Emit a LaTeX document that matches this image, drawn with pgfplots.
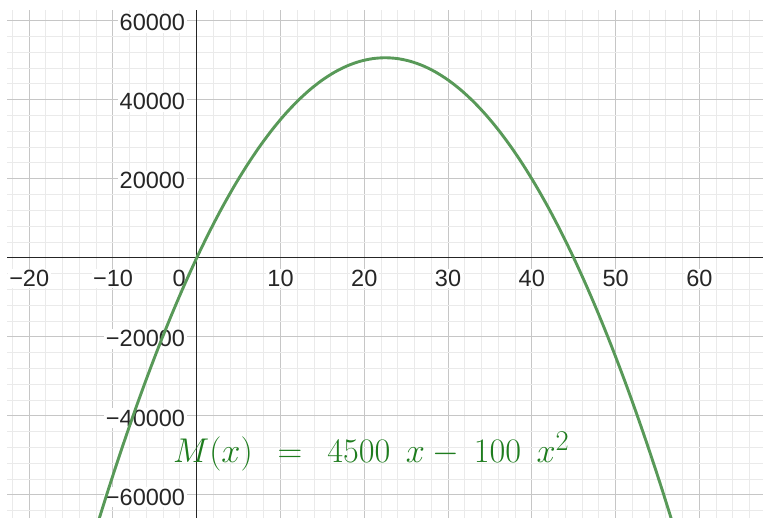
\documentclass[border=0pt]{standalone}
\usepackage[no-math]{fontspec}
\setmainfont{Liberation Sans}
\usepackage{graphicx}
\usepackage{pgfplots}
\pgfplotsset{compat=1.18}

\definecolor{curvegreen}{RGB}{88,153,88}
\definecolor{labelgreen}{RGB}{30,124,30}
\definecolor{majorgrid}{RGB}{198,198,198}
\definecolor{minorgrid}{RGB}{234,234,234}
\definecolor{axisgray}{RGB}{37,37,37}

\begin{document}
\begin{tikzpicture}
\begin{axis}[
  at={(7pt,0pt)}, anchor=south west,
  scale only axis, width=756pt, height=508pt,
  xmin=-22.65, xmax=67.60,
  ymin=-65819, ymax=62707,
  axis lines=middle,
  axis line style={-, draw=axisgray, line width=1.3pt},
  set layers,
  xtick={-20,-10,10,20,30,40,50,60},
  xticklabels={−20,−10,10,20,30,40,50,60},
  extra x ticks={0},
  extra x tick labels={0},
  extra x tick style={xticklabel style={xshift=-17.7pt}, major grid style={draw=none}},
  ytick={-60000,-40000,-20000,20000,40000,60000},
  yticklabels={−60000,−40000,−20000,20000,40000,60000},
  scaled y ticks=false, scaled x ticks=false,
  minor xtick={-22,-20,...,66},
  minor ytick={-64000,-60000,...,60000},
  major tick length=0pt, minor tick length=0pt,
  grid=both,
  major grid style={draw=majorgrid, line width=1pt},
  minor grid style={draw=minorgrid, line width=1pt},
  tick label style={font=\fontsize{23.5}{26}\selectfont, text=black!85, fill=white, inner sep=1.5pt},
  xticklabel style={anchor=north, yshift=-10.5pt},
  yticklabel style={anchor=east, xshift=-10pt, yshift=-2pt},
  clip=true,
]
\addplot[curvegreen, line width=2.9pt, smooth, line join=round] coordinates {
  (-12,-68400) (-10.5,-58275) (-9,-48600) (-7.5,-39375) (-6,-30600)
  (-4.5,-22275) (-3,-14400) (-1.5,-6975) (0,0) (1.5,6525) (3,12600)
  (4.5,18225) (6,23400) (7.5,28125) (9,32400) (10.5,36225) (12,39600)
  (13.5,42525) (15,45000) (16.5,47025) (18,48600) (19.5,49725) (21,50400)
  (22.5,50625) (24,50400) (25.5,49725) (27,48600) (28.5,47025) (30,45000)
  (31.5,42525) (33,39600) (34.5,36225) (36,32400) (37.5,28125) (39,23400)
  (40.5,18225) (42,12600) (43.5,6525) (45,0) (46.5,-6975) (48,-14400)
  (49.5,-22275) (51,-30600) (52.5,-39375) (54,-48600) (55.5,-58275)
  (57,-68400)
};
\node[anchor=base west, inner sep=0pt, text=labelgreen, font=\Huge]
  at (axis cs:-2.83,-51904)
  {\scalebox{1.38}{$M(x)\hspace{0.45em}=\hspace{0.45em}4500\hspace{0.45em}x-\hspace{0.2em}100\hspace{0.45em}x^{2}$}};
\end{axis}
\pgfresetboundingbox
\path[use as bounding box] (0pt,0pt) rectangle (763pt,518pt);
\end{tikzpicture}
\end{document}
